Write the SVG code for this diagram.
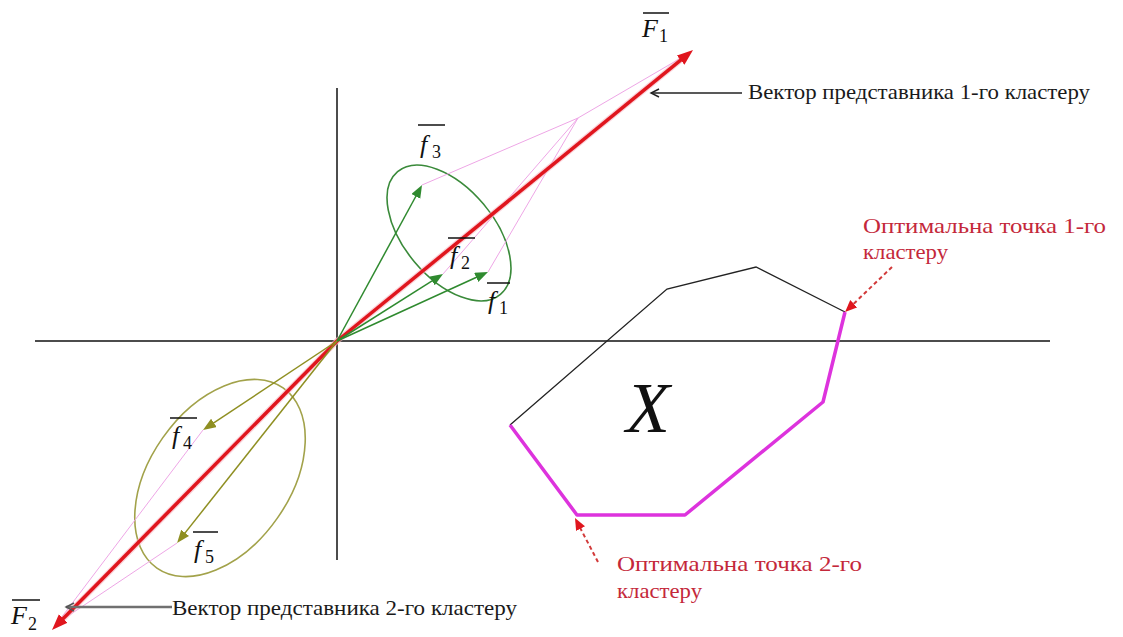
<svg xmlns="http://www.w3.org/2000/svg" width="1123" height="637" viewBox="0 0 1123 637">
<style>
.ax{stroke:#111;stroke-width:1.5;fill:none}
.red{stroke:#e0161e;stroke-width:3.5;fill:none}
.halo{stroke:#f7b9c4;stroke-width:6;fill:none;stroke-linecap:round;opacity:0.6}
.grn{stroke:#2f8a2f;stroke-width:1.5;fill:none}
.olv{stroke:#8f8f22;stroke-width:1.5;fill:none}
.pink{stroke:#eea6e6;stroke-width:1;fill:none}
.ell1{stroke:#3a8a3a;stroke-width:1.6;fill:none}
.ell2{stroke:#a2a24a;stroke-width:1.6;fill:none}
.blk{stroke:#222;stroke-width:1.3;fill:none}
.mag{stroke:#dd33dd;stroke-width:3.5;fill:none;stroke-linejoin:round}
.dash{stroke:#d23a3a;stroke-width:2;stroke-dasharray:4,3;fill:none}
.ol{stroke:#111;stroke-width:1.5}
.m{font-family:"Liberation Serif","Times New Roman",serif;font-style:italic;font-size:26px;fill:#111}
.s{font-family:"Liberation Serif","Times New Roman",serif;font-size:18px;fill:#111}
.t{font-family:"Liberation Serif","Times New Roman",serif;font-size:21px;fill:#1a1a1a}
.rt{font-family:"Liberation Serif","Times New Roman",serif;font-size:22px;fill:#c4283a}
</style>
<defs>
<marker id="mRed" markerUnits="userSpaceOnUse" markerWidth="18" markerHeight="14" refX="2" refY="6" orient="auto"><path d="M0,0 L16,6 L0,12 z" fill="#e0161e"/></marker>
<marker id="mGrn" markerUnits="userSpaceOnUse" markerWidth="14" markerHeight="12" refX="1" refY="5" orient="auto"><path d="M0,0 L13,5 L0,10 z" fill="#2f8a2f"/></marker>
<marker id="mOlv" markerUnits="userSpaceOnUse" markerWidth="14" markerHeight="12" refX="1" refY="5" orient="auto"><path d="M0,0 L13,5 L0,10 z" fill="#8f8f22"/></marker>
<marker id="mOpen" markerUnits="userSpaceOnUse" markerWidth="12" markerHeight="12" refX="9" refY="5" orient="auto"><path d="M1,1 L9,5 L1,9" fill="none" stroke="#222" stroke-width="1.4"/></marker>
<marker id="mOpenG" markerUnits="userSpaceOnUse" markerWidth="12" markerHeight="12" refX="9" refY="5" orient="auto"><path d="M1,1 L9,5 L1,9" fill="none" stroke="#555" stroke-width="1.4"/></marker>
<marker id="mDash" markerUnits="userSpaceOnUse" markerWidth="14" markerHeight="12" refX="1" refY="5" orient="auto"><path d="M0,0 L12,5 L0,10 z" fill="#e0161e"/></marker>
</defs>

<g id="axes">
<line class="ax" x1="35" y1="341" x2="1050" y2="341"/>
<line class="ax" x1="337" y1="88" x2="337" y2="560"/>
</g>

<g id="region-X">
<polyline class="blk" points="510,425 667,289 756,267 845,312"/>
<polyline class="mag" points="845,312 823,402 685,515 577,515 510,425"/>
<text x="626" y="432" style="font-family:'Liberation Serif','Times New Roman',serif;font-style:italic;font-size:72px;fill:#111">X</text>
</g>

<g id="cluster1">
<ellipse class="ell1" cx="449" cy="233" rx="80" ry="45" transform="rotate(50 449 233)"/>
</g>
<g id="cluster2">
<ellipse class="ell2" cx="220" cy="478" rx="110" ry="70" transform="rotate(-55 220 478)"/>
</g>

<g id="connectors">
<g id="construction">
<line class="pink" x1="422" y1="185" x2="578" y2="118"/>
<line class="pink" x1="578" y1="118" x2="686" y2="55"/>
<line class="pink" x1="488" y1="272" x2="578" y2="118"/>
<line class="pink" x1="443" y1="274" x2="578" y2="118"/>
<line class="pink" x1="203" y1="430" x2="58" y2="622"/>
<line class="pink" x1="177" y1="543" x2="62" y2="620"/>
</g>
<line class="halo" x1="337" y1="341" x2="682" y2="59"/>
<line class="halo" x1="337" y1="341" x2="62" y2="620"/>
<line id="vF1" class="red" x1="337" y1="341" x2="682.2" y2="58.9" marker-end="url(#mRed)"/>
<line id="vF2" class="red" x1="337" y1="341" x2="61.8" y2="620" marker-end="url(#mRed)"/>
<line id="vf3" class="grn" x1="337" y1="341" x2="416.3" y2="195.5" marker-end="url(#mGrn)"/>
<line id="vf2" class="grn" x1="337" y1="341" x2="432.9" y2="280.4" marker-end="url(#mGrn)"/>
<line id="vf1" class="grn" x1="337" y1="341" x2="477.1" y2="277" marker-end="url(#mGrn)"/>
<line id="vf4" class="olv" x1="337" y1="341" x2="213" y2="423.4" marker-end="url(#mOlv)"/>
<line id="vf5" class="olv" x1="337" y1="341" x2="184.5" y2="533.6" marker-end="url(#mOlv)"/>
<line id="p1" class="blk" x1="742" y1="93" x2="651" y2="93" marker-end="url(#mOpen)"/>
<line id="p2" style="stroke:#707070;stroke-width:2.5;fill:none" x1="172" y1="607" x2="66" y2="607" marker-end="url(#mOpenG)"/>
<line id="d1" class="dash" x1="892" y1="267" x2="853" y2="304.4" marker-end="url(#mDash)"/>
<line id="d2" class="dash" x1="598" y1="562" x2="580.1" y2="527.8" marker-end="url(#mDash)"/>
</g>

<g id="labels">
<g id="lF1"><line class="ol" x1="643" y1="13" x2="669" y2="13"/><text class="m" x="642" y="37">F</text><text class="s" x="659" y="42">1</text></g>
<g id="lF2"><line class="ol" x1="12" y1="600" x2="40" y2="600"/><text class="m" x="11" y="624">F</text><text class="s" x="28" y="630">2</text></g>
<g id="lf3"><line class="ol" x1="418" y1="125" x2="445" y2="125"/><text class="m" x="420" y="153">f</text><text class="s" x="432" y="158">3</text></g>
<g id="lf2"><line class="ol" x1="448" y1="238" x2="475" y2="238"/><text class="m" x="450" y="264">f</text><text class="s" x="461" y="269">2</text></g>
<g id="lf1"><line class="ol" x1="487" y1="283" x2="510" y2="283"/><text class="m" x="488" y="309">f</text><text class="s" x="499" y="314">1</text></g>
<g id="lf4"><line class="ol" x1="170" y1="418" x2="197" y2="418"/><text class="m" x="172" y="444">f</text><text class="s" x="183" y="449">4</text></g>
<g id="lf5"><line class="ol" x1="193" y1="532" x2="218" y2="532"/><text class="m" x="194" y="558">f</text><text class="s" x="205" y="563">5</text></g>
<text class="t" x="748" y="99" textLength="342" lengthAdjust="spacingAndGlyphs">Вектор представника 1-го кластеру</text>
<text class="t" x="172" y="615" textLength="345" lengthAdjust="spacingAndGlyphs">Вектор представника 2-го кластеру</text>
<text class="rt" x="863" y="233" textLength="243" lengthAdjust="spacingAndGlyphs">Оптимальна точка 1-го</text>
<text class="rt" x="863" y="259" textLength="85" lengthAdjust="spacingAndGlyphs">кластеру</text>
<text class="rt" x="617" y="571" textLength="245" lengthAdjust="spacingAndGlyphs">Оптимальна точка 2-го</text>
<text class="rt" x="617" y="598" textLength="85" lengthAdjust="spacingAndGlyphs">кластеру</text>
</g>
</svg>
